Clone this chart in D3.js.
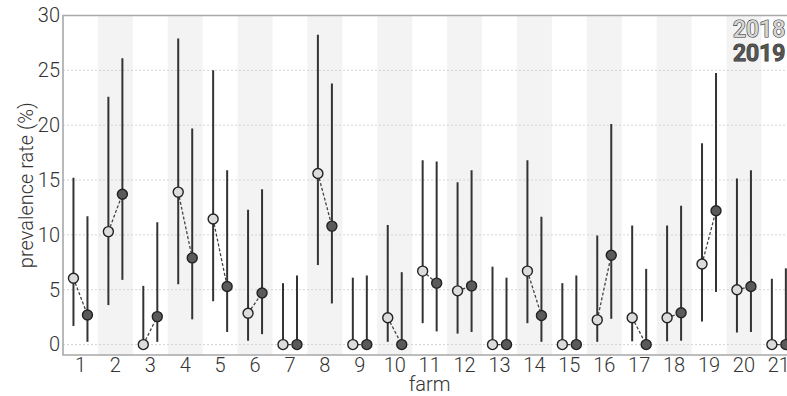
<!DOCTYPE html>
<html>
<head>
<meta charset="utf-8">
<script src="https://cdn.jsdelivr.net/npm/d3@7"></script>
<style>
  body { margin: 0; background: #fff; }
  svg text { font-family: Roboto, "Liberation Sans", sans-serif; font-weight: 300; fill: #333; }
</style>
</head>
<body>
<div id="chart"></div>
<script>
// values
const farms = ["1","2","3","4","5","6","7","8","9","10","11","12","13","14","15","16","17","18","19","20","21"];
const rate2018 = [6.05, 10.3, 0, 13.9, 11.45, 2.85, 0, 15.6, 0, 2.45, 6.7, 4.9, 0, 6.7, 0, 2.25, 2.45, 2.45, 7.35, 5.0, 0];
const lo2018 = [1.7, 3.6, 0, 5.5, 3.95, 0.35, 0, 7.25, 0, 0.25, 1.95, 1.0, 0, 1.95, 0, 0.25, 0.3, 0.3, 2.1, 1.1, 0];
const hi2018 = [15.2, 22.6, 5.35, 27.9, 25.0, 12.3, 5.6, 28.25, 6.1, 10.9, 16.8, 14.8, 7.1, 16.8, 5.6, 9.95, 10.85, 10.85, 18.35, 15.15, 6.0];
const rate2019 = [2.7, 13.7, 2.55, 7.9, 5.3, 4.7, 0, 10.8, 0, 0, 5.6, 5.35, 0, 2.65, 0, 8.15, 0, 2.9, 12.2, 5.3, 0];
const lo2019 = [0.25, 5.9, 0.25, 2.3, 1.15, 0.95, 0, 3.75, 0, 0, 1.2, 1.15, 0, 0.25, 0, 2.35, 0, 0.35, 4.8, 1.15, 0];
const hi2019 = [11.7, 26.1, 11.15, 19.7, 15.9, 14.15, 6.3, 23.8, 6.3, 6.6, 16.7, 15.9, 6.1, 11.65, 6.3, 20.1, 6.9, 12.65, 24.75, 15.9, 6.95];
const yTicks = [0, 5, 10, 15, 20, 25, 30];
const years = ["2018", "2019"];

const W = 787, H = 396;
const pL = 63, pT = 15.5, pB = 355, pR = 63 + 21 * 34.92;

const svg = d3.select("#chart").append("svg")
  .attr("width", W)
  .attr("height", H);

const x = d3.scaleBand().domain(farms).range([pL, pR]).padding(0);
const y = d3.scaleLinear().domain([-0.95, 30]).range([pB, pT]);
const off = 7;

const rows = farms.map((f, i) => ({
  farm: f,
  a: { v: rate2018[i], lo: lo2018[i], hi: hi2018[i] },
  b: { v: rate2019[i], lo: lo2019[i], hi: hi2019[i] }
}));

svg.append("clipPath").attr("id", "panel")
  .append("rect").attr("x", pL).attr("y", pT).attr("width", pR - pL).attr("height", pB - pT);

const plot = svg.append("g").attr("clip-path", "url(#panel)");

// shaded bands on even farms
plot.append("g").selectAll("rect")
  .data(farms.filter((f, i) => i % 2 === 1))
  .enter().append("rect")
  .attr("x", d => x(d))
  .attr("y", pT)
  .attr("width", x.bandwidth())
  .attr("height", pB - pT)
  .attr("fill", "#f3f3f3");

// grid
plot.append("g").selectAll("line")
  .data(yTicks.filter(t => t < 30))
  .enter().append("line")
  .attr("x1", pL).attr("x2", pR)
  .attr("y1", d => y(d)).attr("y2", d => y(d))
  .attr("stroke", "#d4d4d4")
  .attr("stroke-width", 1)
  .attr("stroke-dasharray", "2,2");

const cx = (d, s) => x(d.farm) + x.bandwidth() / 2 + s * off;

// error bars
[["a", -1], ["b", 1]].forEach(([k, s]) => {
  plot.append("g").selectAll("line")
    .data(rows)
    .enter().append("line")
    .attr("x1", d => cx(d, s)).attr("x2", d => cx(d, s))
    .attr("y1", d => y(d[k].lo)).attr("y2", d => y(d[k].hi))
    .attr("stroke", "#333")
    .attr("stroke-width", 2);
});

// dashed connectors
plot.append("g").selectAll("line")
  .data(rows)
  .enter().append("line")
  .attr("x1", d => cx(d, -1)).attr("x2", d => cx(d, 1))
  .attr("y1", d => y(d.a.v)).attr("y2", d => y(d.b.v))
  .attr("stroke", "#444")
  .attr("stroke-width", 1.3)
  .attr("stroke-dasharray", "3,2");

// points
[["a", -1, "#dcdcdc"], ["b", 1, "#5a5a5a"]].forEach(([k, s, fill]) => {
  plot.append("g").selectAll("circle")
    .data(rows)
    .enter().append("circle")
    .attr("cx", d => cx(d, s))
    .attr("cy", d => y(d[k].v))
    .attr("r", 5)
    .attr("fill", fill)
    .attr("stroke", "#222")
    .attr("stroke-width", 1.4);
});

// panel border
svg.append("path")
  .attr("d", `M${pR},${pT}H${pL}V${pB}H${pR}`)
  .attr("fill", "none")
  .attr("stroke", "#a8a8a8")
  .attr("stroke-width", 1.6);

// axes
const yAxis = svg.append("g")
  .attr("transform", `translate(${pL},0)`)
  .call(d3.axisLeft(y).tickValues(yTicks).tickSize(0).tickPadding(3));
yAxis.select(".domain").remove();
yAxis.selectAll("text").style("font-size", "20px").attr("fill", "#333");

const xAxis = svg.append("g")
  .attr("transform", `translate(0,${pB})`)
  .call(d3.axisBottom(x).tickSize(0).tickPadding(3));
xAxis.select(".domain").remove();
xAxis.selectAll("text").style("font-size", "20px").attr("fill", "#333");

// titles
svg.append("text")
  .attr("transform", `translate(33,${(pT + pB) / 2}) rotate(-90)`)
  .attr("text-anchor", "middle")
  .style("font-size", "20px")
  .text("prevalence rate (%)");

svg.append("text")
  .attr("x", (pL + pR) / 2)
  .attr("y", 391)
  .attr("text-anchor", "middle")
  .style("font-size", "20px")
  .text("farm");

// legend
svg.append("g").selectAll("text")
  .data(years)
  .enter().append("text")
  .attr("x", 733)
  .attr("y", (d, i) => 37 + i * 24)
  .style("font-size", "23px")
  .style("font-weight", "500")
  .style("fill", (d, i) => i === 0 ? "#d6d6d6" : "#555")
  .style("stroke", "#333")
  .style("stroke-width", 1.2)
  .style("paint-order", "stroke")
  .text(d => d);
</script>
</body>
</html>
